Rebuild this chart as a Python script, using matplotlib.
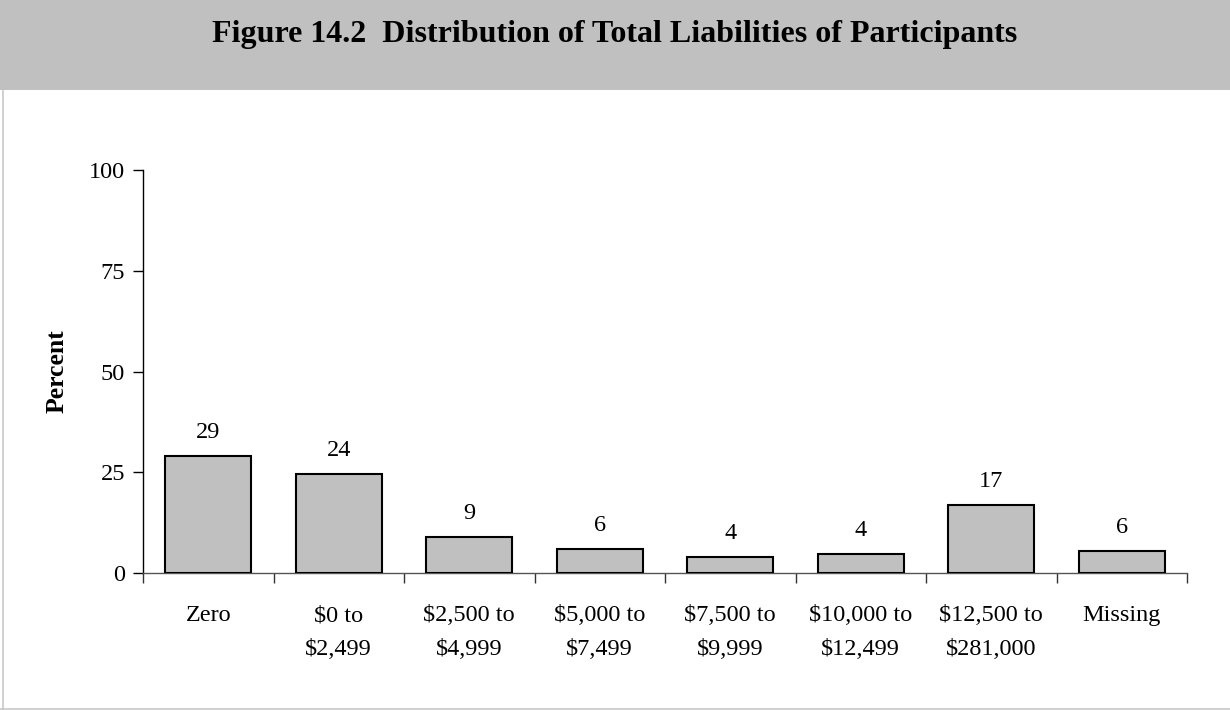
import matplotlib
matplotlib.use("Agg")
import matplotlib.pyplot as plt
from matplotlib.patches import Rectangle
from matplotlib.lines import Line2D

categories = ["Zero", "$0 to\n$2,499", "$2,500 to\n$4,999", "$5,000 to\n$7,499",
              "$7,500 to\n$9,999", "$10,000 to\n$12,499", "$12,500 to\n$281,000", "Missing"]
values = [29.0, 24.5, 8.9, 6.0, 4.0, 4.6, 16.9, 5.5]
labels = ["29", "24", "9", "6", "4", "4", "17", "6"]
yticks = [0, 25, 50, 75, 100]
title = "Figure 14.2  Distribution of Total Liabilities of Participants"

plt.rcParams['font.family'] = ['Liberation Serif', 'DejaVu Serif']
W, H = 1230, 710
FS = 17.5
fig = plt.figure(figsize=(W / 100, H / 100), dpi=100)
fig.patch.set_facecolor('white')

# title band
fig.add_artist(Rectangle((0, 1 - 90 / H), 1, 90 / H, transform=fig.transFigure,
                         facecolor='#c0c0c0', edgecolor='none', zorder=0))
fig.text(0.5, 1 - 42 / H, title, ha='center', va='baseline', fontsize=23,
         fontweight='bold', color='black')
# light frame lines
fig.add_artist(Line2D([2.5 / W, 2.5 / W], [0, 1 - 90 / H], transform=fig.transFigure,
                      color='#c8c8c8', lw=1.2))
fig.add_artist(Line2D([0, 1], [1.5 / H, 1.5 / H], transform=fig.transFigure,
                      color='#c8c8c8', lw=1.2))

left, right = 143 / W, 1187 / W
bottom, top = 1 - 573 / H, 1 - 170 / H
ax = fig.add_axes([left, bottom, right - left, top - bottom])
x = list(range(len(categories)))
ax.bar(x, values, width=0.66, color='#c0c0c0', edgecolor='black', linewidth=1.5, zorder=3)
for xi, v, lab in zip(x, values, labels):
    ax.annotate(lab, (xi, v), xytext=(0, 13), textcoords='offset points',
                ha='center', va='baseline', fontsize=FS)

ax.set_xlim(-0.5, len(categories) - 0.5)
ax.set_ylim(0, 100)
ax.set_yticks(yticks)
ax.set_yticklabels([str(t) for t in yticks], fontsize=FS)
ax.set_xticks([i - 0.5 for i in range(len(categories) + 1)])
ax.set_xticklabels([])
# category labels, each line on a common baseline
for xi, cat in zip(x, categories):
    for k, line in enumerate(cat.split("\n")):
        ax.annotate(line, (xi, 0), xycoords=('data', 'axes fraction'),
                    xytext=(0, -34.6 - 24.5 * k), textcoords='offset points',
                    ha='center', va='baseline', fontsize=FS, annotation_clip=False)
ax.tick_params(axis='x', direction='out', length=7, width=1, color='#333333')
ax.tick_params(axis='y', direction='out', length=7, width=1, pad=6)
for s in ['top', 'right']:
    ax.spines[s].set_visible(False)
ax.spines['left'].set_color('black')
ax.spines['left'].set_linewidth(1)
ax.spines['bottom'].set_color('#555555')
ax.spines['bottom'].set_linewidth(1)
ax.set_facecolor('none')

fig.text(57.5 / W, 1 - 371 / H, "Percent", rotation=90, ha='center', va='center',
         fontsize=18.5, fontweight='bold')

fig.savefig('out.png', dpi=100)
